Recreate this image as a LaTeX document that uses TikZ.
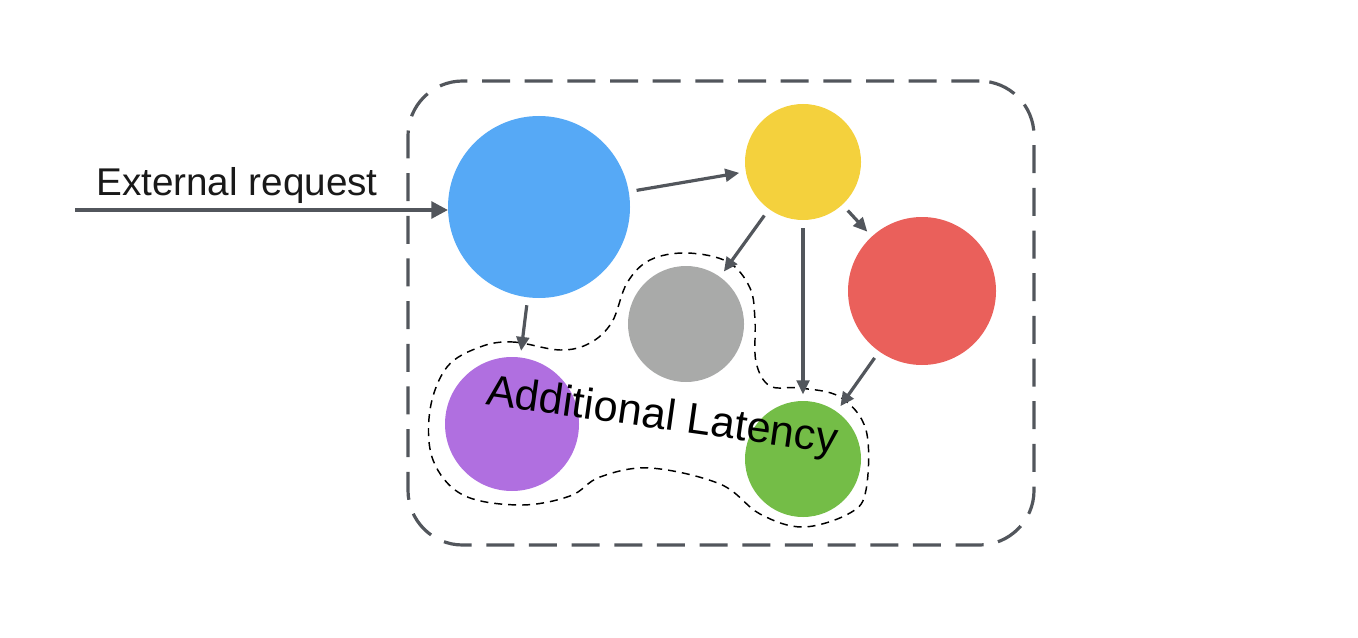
\documentclass[tikz,border=0pt]{standalone}
\usepackage{fontspec}
\setmainfont{Liberation Sans}
\usetikzlibrary{arrows.meta}
\definecolor{ink}{HTML}{52565C}
\definecolor{cblue}{HTML}{56A9F6}
\definecolor{cyellow}{HTML}{F4D13D}
\definecolor{cred}{HTML}{EA605B}
\definecolor{cgray}{HTML}{A9AAA9}
\definecolor{cpurple}{HTML}{B06FE0}
\definecolor{cgreen}{HTML}{74BD47}
\begin{document}
\begin{tikzpicture}[x=0.75pt,y=-0.75pt,
  ball/.style={circle,inner sep=0pt,outer sep=0pt,draw=none},
  conn/.style={draw=ink,line width=2.4pt,-{Triangle[length=10.5pt,width=9.5pt]},shorten <=6pt,shorten >=5pt},
  bigconn/.style={draw=ink,line width=2.8pt,-{Triangle[length=12.5pt,width=12.5pt]}},
  frame/.style={draw=ink,line width=2.4pt,rounded corners=41pt,dash pattern=on 21pt off 11pt,inner sep=0pt},
  blob/.style={draw=black,line width=1.1pt,dash pattern=on 6pt off 4.5pt}]
\useasboundingbox (0,0) rectangle (1358,638);
\node[frame,minimum width=626*0.75pt,minimum height=464*0.75pt] (box) at (721,313) {};
\node[ball,fill=cblue,minimum size=182*0.75pt] (blue) at (539,207) {};
\node[ball,fill=cyellow,minimum size=116*0.75pt] (yellow) at (803,162) {};
\node[ball,fill=cred,minimum size=148*0.75pt] (red) at (922,291) {};
\node[ball,fill=cgray,minimum size=116*0.75pt] (gray) at (686,324) {};
\node[ball,fill=cpurple,minimum size=134*0.75pt] (purple) at (512,424) {};
\node[ball,fill=cgreen,minimum size=116*0.75pt] (green) at (803,459) {};
\draw[blob] plot[smooth cycle,tension=0.6] coordinates {
 (480,347) (513,342) (560,350) (590,343) (612,322) (627,283) (650,260) (687,253)
 (728,262) (750,288) (755,320) (756,362) (770,386) (800,388) (840,397)
 (866,430) (866,490) (850,513) (803,527) (760,514) (720,484) (650,468)
 (600,477) (570,496) (520,505) (463,495) (433,460) (430,410) (447,367)};
\coordinate (src) at (75,210);
\draw[bigconn] (src) -- (blue.west |- src);
\node[font=\fontsize{29pt}{34pt}\selectfont,anchor=base,text=black!90] (ext) at (237,195) {External request};
\draw[conn] (blue) -- (yellow);
\draw[conn] (yellow) -- (gray);
\draw[conn] (yellow) -- (green);
\draw[conn] (yellow) -- (red);
\draw[conn] (red) -- (green);
\draw[conn] (blue) -- (purple);
\node[font=\fontsize{32.5pt}{38pt}\selectfont,rotate=-8,text=black] (lat) at (662,418) {Additional Latency};
\end{tikzpicture}
\end{document}
